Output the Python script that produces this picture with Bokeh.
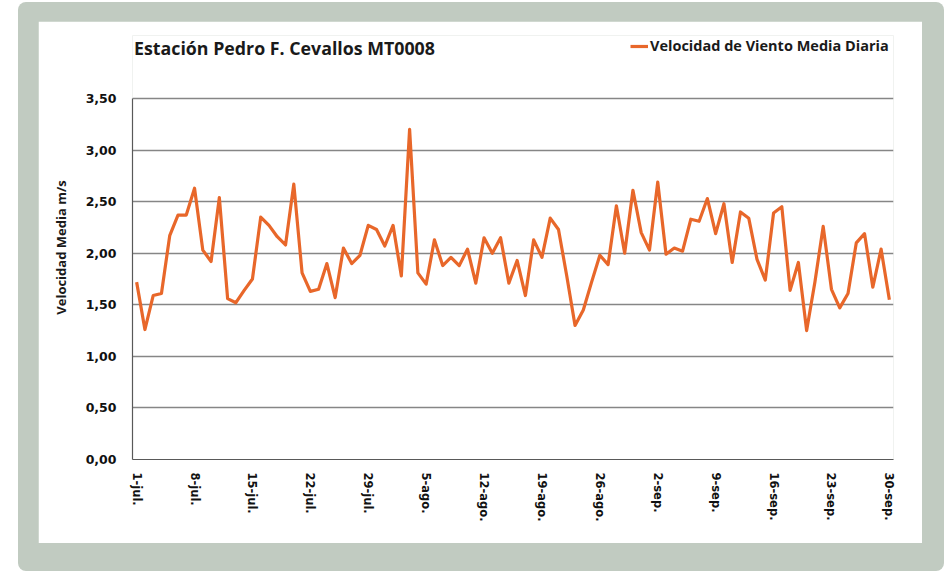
from bokeh.plotting import figure
from bokeh.models import (Range1d, FixedTicker, Legend, LegendItem, ColumnDataSource,
                          Column, Row, Spacer, Label)
from bokeh.embed import file_html
from bokeh.resources import INLINE

# ---- data ----
days = list(range(92))  # 1-jul .. 30-sep
wind_speed = [
    1.72, 1.26, 1.59, 1.61, 2.17, 2.37, 2.37, 2.63, 2.03, 1.92,
    2.54, 1.56, 1.52, 1.64, 1.75, 2.35, 2.27, 2.16, 2.08, 2.67,
    1.81, 1.63, 1.65, 1.90, 1.57, 2.05, 1.90, 1.98, 2.27, 2.23,
    2.07, 2.27, 1.78, 3.20, 1.81, 1.70, 2.13, 1.88, 1.96, 1.88,
    2.04, 1.71, 2.15, 2.00, 2.15, 1.71, 1.93, 1.59, 2.13, 1.96,
    2.34, 2.23, 1.78, 1.30, 1.45, 1.72, 1.98, 1.89, 2.46, 2.00,
    2.61, 2.20, 2.03, 2.69, 1.99, 2.05, 2.02, 2.33, 2.31, 2.53,
    2.19, 2.48, 1.91, 2.40, 2.34, 1.94, 1.74, 2.39, 2.45, 1.64,
    1.91, 1.25, 1.72, 2.26, 1.65, 1.47, 1.61, 2.10, 2.19, 1.67,
    2.04, 1.55,
]
x_tick_positions = [0, 7, 14, 21, 28, 35, 42, 49, 56, 63, 70, 77, 84, 91]
x_tick_labels = ["1-jul.", "8-jul.", "15-jul.", "22-jul.", "29-jul.", "5-ago.",
                 "12-ago.", "19-ago.", "26-ago.", "2-sep.", "9-sep.", "16-sep.",
                 "23-sep.", "30-sep."]
y_tick_values = [0.0, 0.5, 1.0, 1.5, 2.0, 2.5, 3.0, 3.5]
y_tick_labels = ["0,00", "0,50", "1,00", "1,50", "2,00", "2,50", "3,00", "3,50"]

title_text = "Estación Pedro F. Cevallos  MT0008"
series_name = "Velocidad de Viento Media Diaria"
y_title = "Velocidad Media m/s"

LINE_COLOR = "#e8672a"
GRID_COLOR = "#868686"
AXIS_COLOR = "#595959"
TEXT_COLOR = "#1a1a1a"
FRAME_BG = "#c1cbc1"

# frame extended upward so the title/legend row sits inside it;
# the y axis itself is bounded to 0..3.5
p = figure(width=884, height=522, output_backend="svg", toolbar_location=None,
           title=None,
           x_range=Range1d(-0.5, 91.5), y_range=Range1d(0, 4.111),
           min_border_left=94, min_border_right=29, min_border_top=14,
           min_border_bottom=84, background_fill_color="white",
           border_fill_color="white", outline_line_color=None)

src = ColumnDataSource(dict(x=days, y=wind_speed))
r = p.line("x", "y", source=src, line_color=LINE_COLOR, line_width=3.2,
           line_join="round")

# title (inside the extended frame, top-left)
title = Label(x=1.5, y=412, x_units="screen", y_units="screen", text=title_text,
              text_font="Open Sans", text_font_size="17.8px", text_font_style="bold",
              text_color=TEXT_COLOR, text_baseline="middle", text_align="left")
p.add_layout(title)

# x axis
xa = p.xaxis[0]
xa.ticker = FixedTicker(ticks=x_tick_positions)
xa.major_label_overrides = {k: v for k, v in zip(x_tick_positions, x_tick_labels)}
xa.major_label_orientation = "vertical"
xa.major_label_text_font = "DejaVu Sans"
xa.major_label_text_font_style = "bold"
xa.major_label_text_font_size = "11.5px"
xa.major_label_text_color = "#111111"
xa.major_label_standoff = 7
xa.major_tick_line_color = None
xa.minor_tick_line_color = None
xa.axis_line_color = AXIS_COLOR
xa.axis_line_width = 1.2

# y axis
ya = p.yaxis[0]
ya.ticker = FixedTicker(ticks=y_tick_values)
ya.bounds = (y_tick_values[0], y_tick_values[-1])
ya.major_label_overrides = {k: v for k, v in zip(y_tick_values, y_tick_labels)}
ya.major_label_text_font = "DejaVu Sans"
ya.major_label_text_font_style = "bold"
ya.major_label_text_font_size = "12.5px"
ya.major_label_text_color = "#111111"
ya.major_label_standoff = 10
ya.major_tick_line_color = None
ya.minor_tick_line_color = None
ya.axis_line_color = AXIS_COLOR
ya.axis_line_width = 1.2
ya.axis_label = y_title
ya.axis_label_text_font = "Open Sans"
ya.axis_label_text_font_style = "bold"
ya.axis_label_text_font_size = "13px"
ya.axis_label_text_color = TEXT_COLOR
ya.axis_label_standoff = 13

p.xgrid.grid_line_color = None
p.ygrid.ticker = FixedTicker(ticks=y_tick_values[1:])
p.ygrid.grid_line_color = GRID_COLOR
p.ygrid.grid_line_width = 1.3

legend = Legend(items=[LegendItem(label=series_name, renderers=[r])],
                location=(498, 404), orientation="horizontal",
                padding=0, margin=0, spacing=0, label_standoff=2,
                glyph_width=18, glyph_height=16, label_height=16,
                border_line_color=None, background_fill_alpha=0,
                label_text_font="Open Sans", label_text_font_style="bold",
                label_text_font_size="14.5px", label_text_color=TEXT_COLOR)
p.add_layout(legend, "center")

# grey rounded frame around the white chart panel, built from spacers
inner = Row(children=[Spacer(width=20, height=522), p, Spacer(width=22, height=522)],
            spacing=0)
grey = Column(children=[Spacer(width=926, height=19), inner, Spacer(width=926, height=28)],
              spacing=0,
              styles={"background-color": FRAME_BG, "border-radius": "8px"})
shifted = Column(children=[Spacer(width=926, height=2), grey], spacing=0)
layout = Row(children=[Spacer(width=18, height=571), shifted], spacing=0)

open("out.html", "w").write(file_html(layout, INLINE))
